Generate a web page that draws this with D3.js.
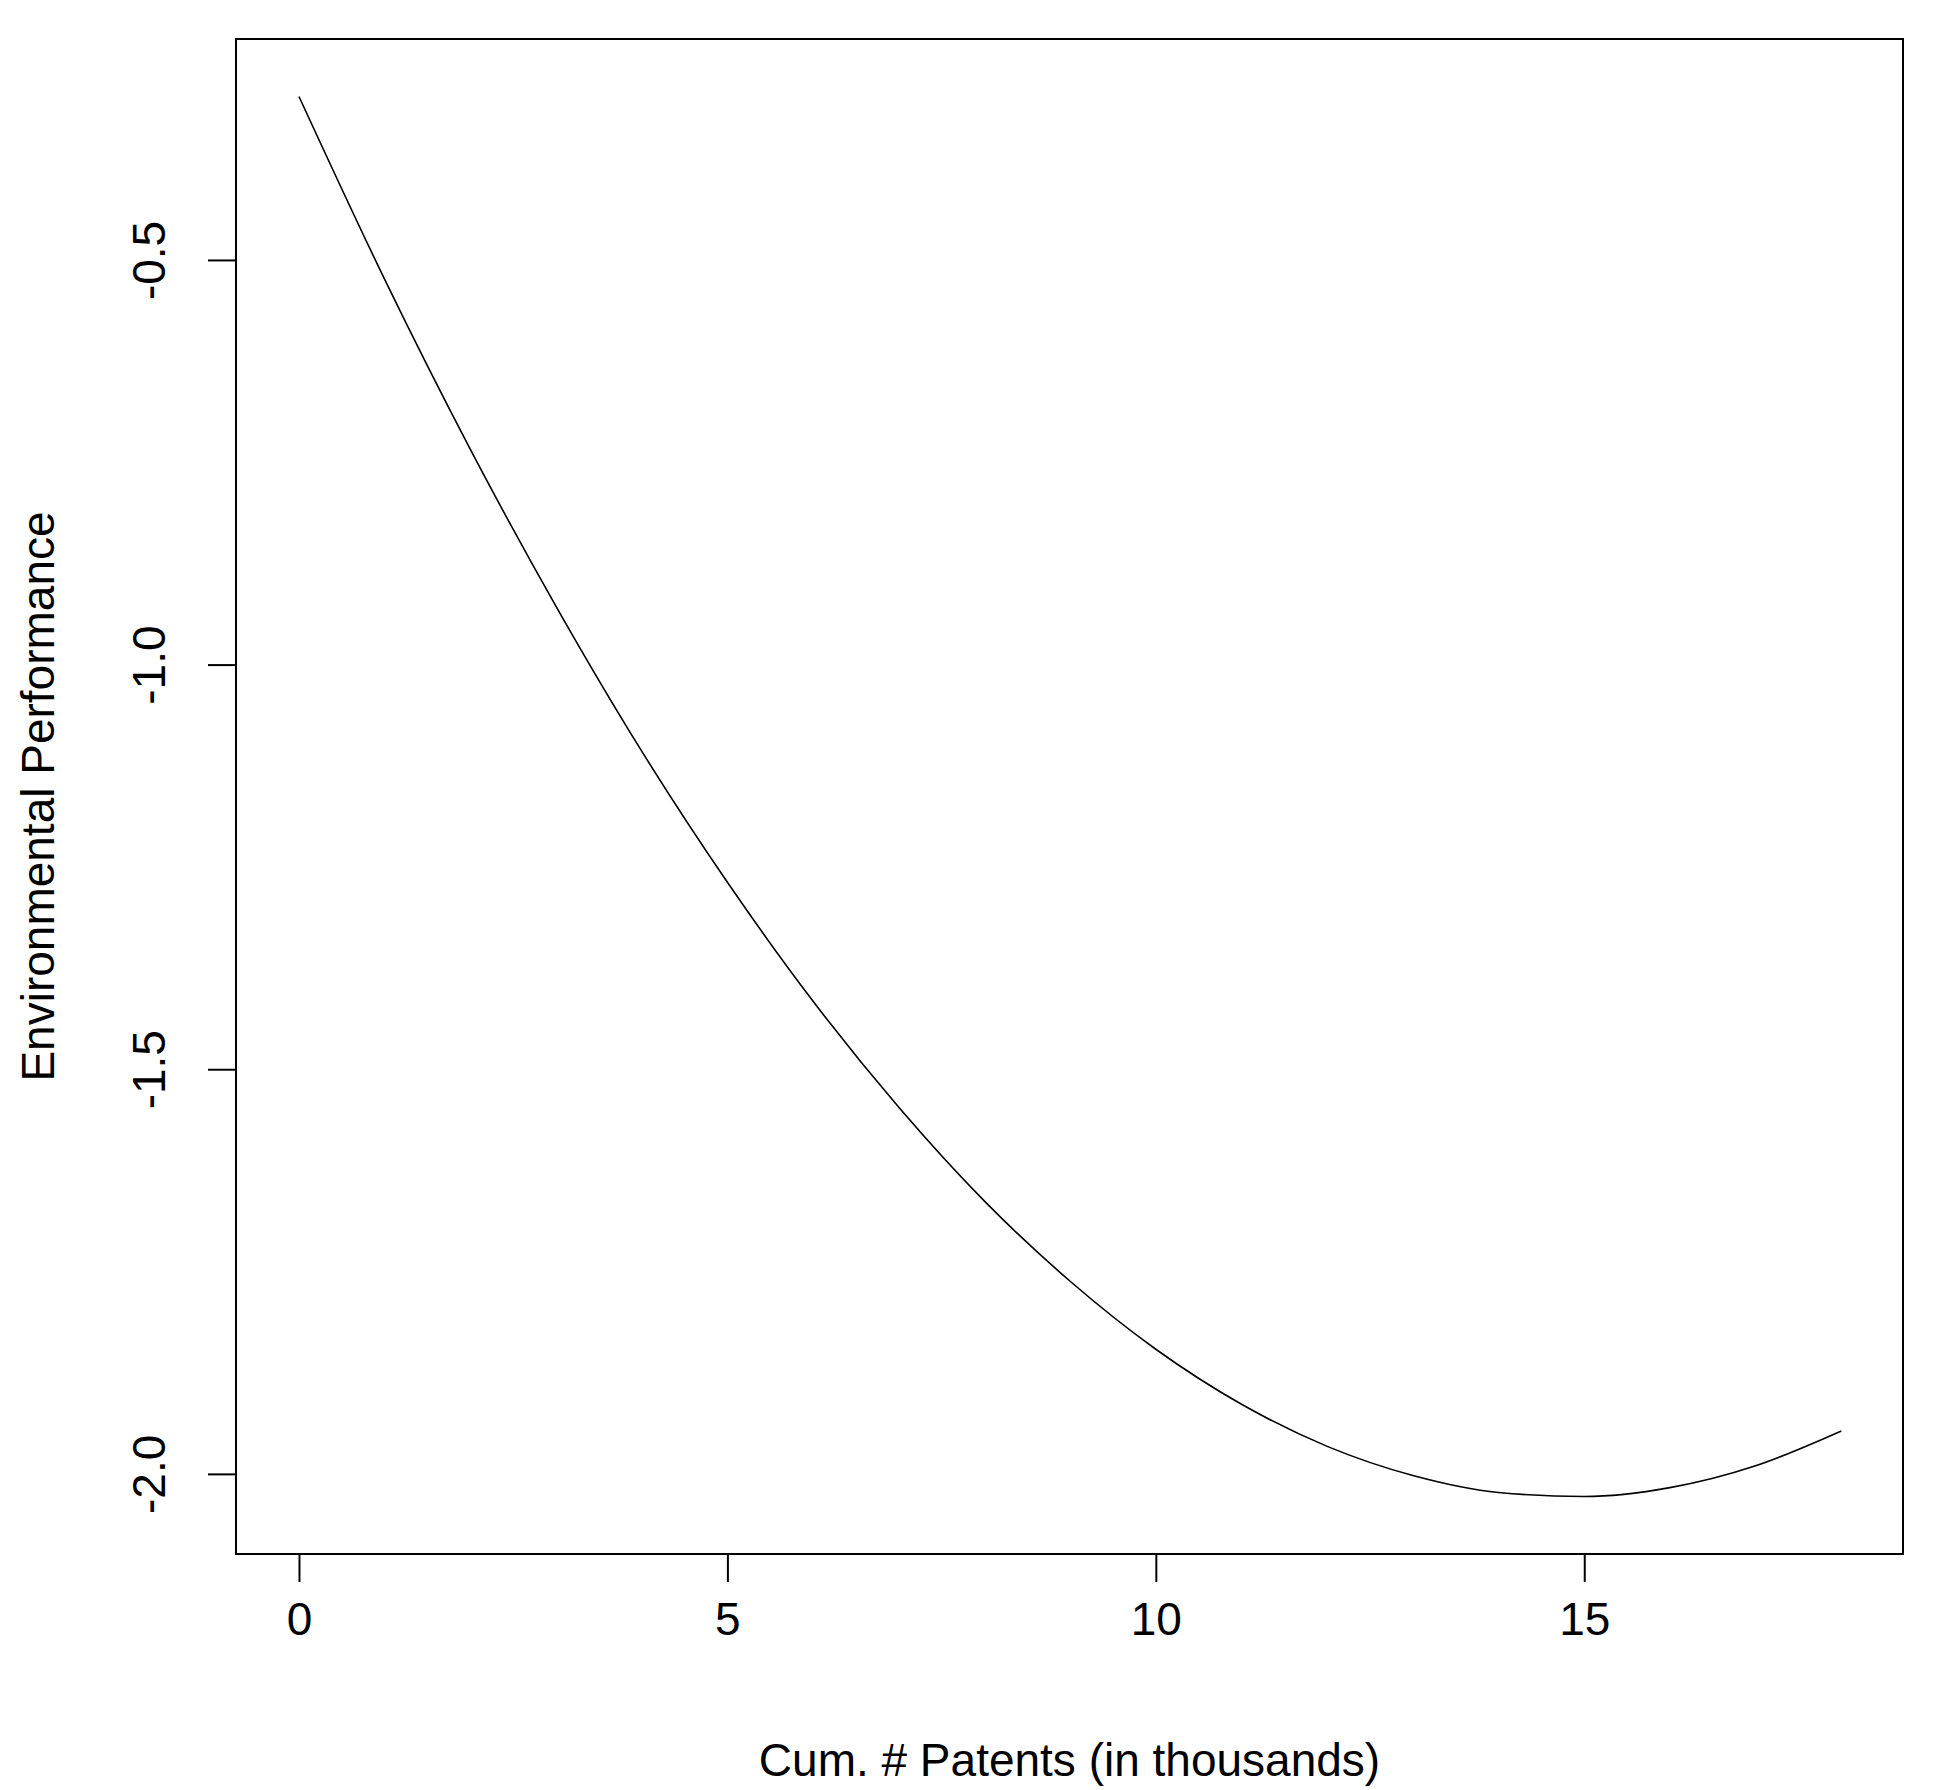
<!DOCTYPE html>
<html>
<head>
<meta charset="utf-8">
<script src="https://cdn.jsdelivr.net/npm/d3@7"></script>
<style>
  body { margin: 0; background: #fff; }
  text { font-family: "Liberation Sans", Arial, sans-serif; fill: #000; }
</style>
</head>
<body>
<div id="chart"></div>
<script>
// values at each thousand patents
let patents = [0, 1, 2, 3, 4, 5, 6, 7, 8, 9, 10, 11, 12, 13, 14, 15, 16, 17, 18];
let performance = [-0.298, -0.524, -0.734, -0.928, -1.107, -1.269, -1.416, -1.547, -1.663,
  -1.762, -1.846, -1.914, -1.966, -2.002, -2.023, -2.028, -2.017, -1.990, -1.947];
let xTicks = [0, 5, 10, 15];
let yTicks = [-0.5, -1.0, -1.5, -2.0];

let width = 1953, height = 1790;
let box = { left: 236, right: 1903, top: 39, bottom: 1554 };

let x = d3.scaleLinear().domain([-0.735, 18.72]).range([box.left, box.right]);
let y = d3.scaleLinear().domain([-2.099, -0.227]).range([box.bottom, box.top]);

let svg = d3.select('#chart').append('svg')
  .attr('width', width).attr('height', height);

svg.append('rect')
  .attr('x', box.left).attr('y', box.top)
  .attr('width', box.right - box.left).attr('height', box.bottom - box.top)
  .attr('fill', 'none').attr('stroke', '#000').attr('stroke-width', 2);

let data = patents.map((p, i) => ({ p: p, v: performance[i] }));

svg.append('path')
  .datum(data)
  .attr('fill', 'none').attr('stroke', '#000').attr('stroke-width', 1.6)
  .attr('d', d3.line().x(d => x(d.p)).y(d => y(d.v)).curve(d3.curveMonotoneX));

// eje x
let xAxis = svg.append('g').attr('transform', `translate(0,${box.bottom})`)
  .call(d3.axisBottom(x).tickValues(xTicks).tickSize(28).tickPadding(20).tickFormat(d3.format('d')));
xAxis.select('.domain').attr('d', `M${x(0)},0H${x(15)}`).attr('stroke-width', 2);
xAxis.selectAll('.tick line').attr('stroke-width', 2);
xAxis.selectAll('text').attr('font-size', 46);

// eje y
let yAxis = svg.append('g').attr('transform', `translate(${box.left},0)`)
  .call(d3.axisLeft(y).tickValues(yTicks).tickSize(28).tickFormat(d3.format('.1f')));
yAxis.select('.domain').attr('d', `M0,${y(-0.5)}V${y(-2.0)}`).attr('stroke-width', 2);
yAxis.selectAll('.tick line').attr('stroke-width', 2);
yAxis.selectAll('text')
  .attr('font-size', 46)
  .attr('x', 0).attr('dy', 0)
  .attr('text-anchor', 'middle')
  .attr('transform', `translate(${149 - box.left},0) rotate(-90) translate(0,16)`)
  .text(d => d3.format('.1f')(d).replace('−', '-'));

svg.append('text')
  .attr('x', (box.left + box.right) / 2).attr('y', 1776)
  .attr('text-anchor', 'middle').attr('font-size', 46)
  .text('Cum. # Patents (in thousands)');

svg.append('text')
  .attr('transform', `translate(54,${(box.top + box.bottom) / 2}) rotate(-90)`)
  .attr('text-anchor', 'middle').attr('font-size', 46)
  .text('Environmental Performance');
</script>
</body>
</html>
